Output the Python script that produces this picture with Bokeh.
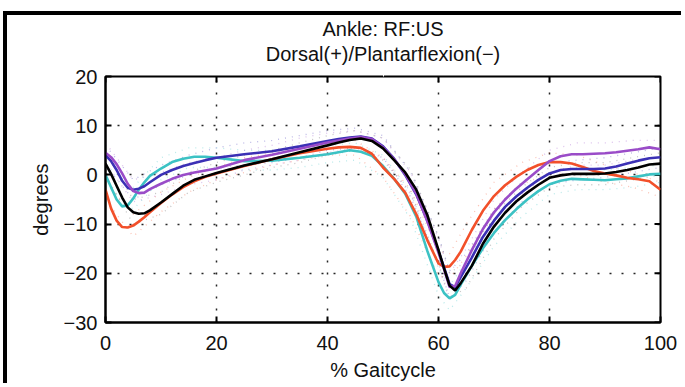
import math
from bokeh.plotting import figure
from bokeh.models import Range1d, FixedTicker, Title, LinearAxis
from bokeh.embed import file_html
from bokeh.resources import INLINE

# % gait cycle sample positions (mean curves)
gait = [0, 1, 2, 3, 4, 5, 6, 7, 8, 10, 12, 14, 16, 18, 20, 25, 30, 35, 40, 42, 44, 46, 48,
        50, 52, 54, 56, 58, 60, 61, 62, 63, 64, 66, 68, 70, 72, 74, 76, 78, 80,
        82, 84, 86, 88, 90, 92, 94, 96, 98, 100]

red = [-3.0, -6.8, -9.3, -10.6, -10.7, -10.3, -9.5, -8.6, -7.6, -5.7, -4.0, -2.5, -1.3, -0.4, 0.3,
       1.8, 3.2, 4.4, 5.3, 5.6, 5.7, 5.5, 4.3, 1.5, -0.8, -3.6, -8.0, -13.3, -18.0,
       -18.7, -18.6, -17.3, -15.6, -11.2, -7.3, -4.3, -2.1, -0.4, 1.0, 2.0, 2.6,
       2.6, 2.3, 1.6, 0.8, 0.3, -0.1, -0.6, -0.9, -1.3, -3.0]

cyan = [0.0, -2.5, -5.0, -6.4, -6.2, -4.8, -3.0, -1.5, -0.2, 1.3, 2.6, 3.3, 3.7, 3.7, 3.5,
        2.8, 2.9, 3.5, 4.2, 4.6, 5.0, 4.7, 3.9, 1.8, -0.8, -3.8, -8.5, -15.5, -21.8,
        -24.0, -25.1, -24.4, -22.3, -18.5, -14.9, -11.8, -9.2, -7.0, -5.0, -3.3, -1.9,
        -1.2, -0.8, -0.9, -1.0, -1.1, -0.9, -0.7, -0.3, 0.1, 0.2]

blue = [4.0, 2.8, 1.0, -1.2, -2.6, -3.0, -2.8, -2.3, -1.5, 0.0, 1.0, 1.8, 2.4, 3.0, 3.5,
        4.2, 4.8, 5.8, 6.9, 7.3, 7.6, 7.8, 7.4, 5.8, 3.3, 0.0, -4.0, -9.3, -15.5,
        -18.8, -22.2, -22.8, -20.8, -16.8, -12.6, -9.3, -6.5, -4.4, -2.6, -1.0, 0.3,
        1.0, 1.2, 1.2, 1.2, 1.3, 1.7, 2.3, 2.9, 3.4, 3.6]

purple = [4.5, 3.6, 2.2, 0.3, -1.8, -3.3, -3.7, -3.6, -2.9, -1.8, -0.8, 0.0, 0.5, 0.9, 1.3,
          3.0, 4.1, 5.3, 6.6, 7.0, 7.4, 7.7, 7.3, 5.6, 3.2, 0.2, -3.8, -9.5, -15.8,
          -19.2, -22.8, -22.6, -20.0, -15.3, -11.0, -7.6, -5.0, -2.8, -0.9, 1.0, 2.8,
          3.8, 4.2, 4.2, 4.3, 4.4, 4.6, 4.9, 5.2, 5.6, 5.2]

black = [2.3, 0.2, -2.2, -4.6, -6.6, -7.6, -7.9, -7.8, -7.2, -5.6, -3.9, -2.2, -1.0, -0.3, 0.4,
         1.9, 3.2, 4.6, 6.0, 6.6, 7.1, 7.4, 6.9, 5.4, 3.0, 0.5, -3.0, -8.2, -15.3,
         -19.0, -22.5, -23.5, -22.0, -18.5, -14.0, -10.5, -7.7, -5.4, -3.6, -2.0, -0.6,
         -0.1, 0.2, 0.2, 0.2, 0.3, 0.6, 1.0, 1.5, 2.1, 2.3]

# faint individual trials (dotted), sampled coarser
trial_x = [0, 5, 10, 15, 20, 25, 30, 35, 40, 45, 50, 55, 60, 62, 65, 70, 75, 80, 85, 90, 95, 100]
red_trial_a = [-1.5, -8.0, -3.5, -0.5, 1.5, 3.5, 4.5, 5.5, 6.5, 7.0, 3.5, -3.0, -15.5, -16.0, -10.0, -1.5, 2.5, 4.5, 4.0, 2.0, 0.5, -1.5]
red_trial_b = [-5.0, -12.5, -7.5, -3.5, -1.0, 0.5, 2.0, 3.0, 4.0, 4.0, -0.5, -8.5, -20.5, -21.0, -16.5, -7.0, -2.0, 0.5, 0.0, -1.5, -2.5, -4.5]
cyan_trial_a = [2.0, -2.5, 3.5, 5.5, 5.5, 5.0, 5.0, 5.5, 6.0, 6.5, 4.0, -3.5, -19.0, -22.5, -17.5, -9.0, -3.5, 0.5, 1.5, 1.0, 1.5, 2.0]
cyan_trial_b = [-2.0, -7.0, -1.0, 1.5, 1.5, 1.0, 1.0, 1.5, 2.5, 3.0, -0.5, -9.0, -24.5, -27.5, -23.0, -14.5, -8.5, -4.0, -3.0, -3.0, -2.5, -1.5]
blue_trial_a = [6.0, -1.0, 2.0, 4.0, 5.5, 6.5, 7.0, 8.0, 9.0, 9.5, 8.0, 0.5, -12.5, -19.5, -16.0, -7.0, -1.5, 2.5, 3.0, 3.5, 4.5, 5.5]
blue_trial_b = [2.0, -5.0, -2.0, 0.0, 1.5, 2.0, 2.5, 3.5, 5.0, 5.5, 3.5, -4.5, -18.0, -25.0, -21.5, -11.5, -5.5, -2.0, -1.0, -0.5, 0.5, 1.5]
purple_trial_a = [6.5, -1.0, 0.5, 2.5, 3.5, 5.0, 6.0, 7.5, 8.5, 9.0, 7.5, 0.5, -13.0, -20.0, -15.0, -5.0, 0.5, 5.0, 6.5, 6.5, 7.0, 7.0]
purple_trial_b = [2.5, -5.5, -4.0, -2.0, -1.0, 1.0, 2.0, 3.0, 4.5, 5.5, 3.5, -4.0, -18.5, -25.5, -20.5, -10.0, -4.0, 0.5, 2.0, 2.0, 3.0, 3.5]
black_trial_a = [4.5, -5.0, -3.5, 0.5, 2.5, 4.0, 5.0, 6.5, 8.0, 9.0, 7.5, 1.0, -12.5, -20.0, -17.5, -8.0, -2.5, 1.5, 2.5, 2.5, 3.5, 4.5]
black_trial_b = [0.0, -10.0, -8.0, -3.5, -1.5, 0.0, 1.5, 2.5, 4.0, 5.0, 3.0, -3.5, -18.0, -25.0, -23.0, -13.0, -6.5, -2.5, -2.0, -2.0, -1.0, 0.0]

x_ticks = [0, 20, 40, 60, 80, 100]
x_tick_labels = ["0", "20", "40", "60", "80", "100"]
y_ticks = [-30, -20, -10, 0, 10, 20]
y_tick_labels = ["\u221230", "\u221220", "\u221210", "0", "10", "20"]

title_line1 = "Ankle: RF:US"
title_line2 = "Dorsal(+)/Plantarflexion(\u2212)"
x_label = "% Gaitcycle"
y_label = "degrees"

FONT = "Liberation Sans"

p = figure(width=678, height=372, output_backend="svg", toolbar_location=None,
           x_range=Range1d(0, 100), y_range=Range1d(-30, 20),
           min_border_left=98, min_border_right=25, min_border_top=60, min_border_bottom=65,
           title=None)
# outer page frame: black top and left edges, as in the source figure
p.styles = {"margin-top": "11px", "margin-left": "3px",
            "border-top": "4px solid black", "border-left": "4px solid black"}
p.background_fill_color = "white"
p.border_fill_color = "white"
p.outline_line_color = "black"
p.outline_line_width = 2

# axes
for ax in (p.xaxis[0], p.yaxis[0]):
    ax.axis_line_width = 2
    ax.axis_line_color = "black"
    ax.major_tick_in = 6
    ax.major_tick_out = 0
    ax.minor_tick_line_color = None
    ax.major_tick_line_width = 2
    ax.major_label_text_font = FONT
    ax.major_label_text_font_size = "20px"
    ax.major_label_text_color = "#111111"
    ax.axis_label_text_font = FONT
    ax.axis_label_text_font_size = "20px"
    ax.axis_label_text_font_style = "normal"
    ax.axis_label_text_color = "#111111"

p.xaxis[0].ticker = FixedTicker(ticks=x_ticks)
p.xaxis[0].major_label_overrides = {t: s for t, s in zip(x_ticks, x_tick_labels)}
p.xaxis[0].major_label_standoff = 13
p.xaxis[0].axis_label = x_label
p.xaxis[0].axis_label_standoff = 6

p.yaxis[0].ticker = FixedTicker(ticks=y_ticks)
p.yaxis[0].major_label_overrides = {t: s for t, s in zip(y_ticks, y_tick_labels)}
p.yaxis[0].major_label_standoff = 8
p.yaxis[0].axis_label = y_label
p.yaxis[0].axis_label_standoff = 9

# invisible spacer between the box and the title lines: one white tick, no labels
spacer = LinearAxis(ticker=FixedTicker(ticks=[x_ticks[2] + 10]), axis_line_color=None,
                    major_tick_line_color="white", major_tick_line_width=1,
                    minor_tick_line_color=None,
                    major_tick_in=0, major_tick_out=11, major_label_standoff=0,
                    major_label_text_color=None)
p.add_layout(spacer, "above")

# title lines (first added sits closest to the plot)
p.add_layout(Title(text=title_line2, text_font=FONT, text_font_size="20px",
                   text_font_style="normal", align="center", standoff=2,
                   text_color="#111111"), "above")
p.add_layout(Title(text=title_line1, text_font=FONT, text_font_size="20px",
                   text_font_style="normal", align="center", standoff=0,
                   text_color="#111111"), "above")

# grid
for g in (p.xgrid[0], p.ygrid[0]):
    g.grid_line_color = "black"
    g.grid_line_dash = "2 10"
    g.grid_line_width = 1.5
    g.grid_line_alpha = 0.85
p.xgrid[0].ticker = FixedTicker(ticks=x_ticks)
p.ygrid[0].ticker = FixedTicker(ticks=y_ticks)

# inward ticks mirrored on the top and right edges of the box
p.ray(x=x_ticks, y=[p.y_range.end] * len(x_ticks), length=6, length_units="screen",
      angle=-math.pi / 2, line_color="black", line_width=2)
p.ray(x=[p.x_range.end] * len(y_ticks), y=y_ticks, length=6, length_units="screen",
      angle=math.pi, line_color="black", line_width=2)

# faint dotted trials
trials = [(red_trial_a, "#f2502a"), (red_trial_b, "#f2502a"),
          (cyan_trial_a, "#3cc2c4"), (cyan_trial_b, "#3cc2c4"),
          (blue_trial_a, "#3b30b5"), (blue_trial_b, "#3b30b5"),
          (purple_trial_a, "#9a4cc8"), (purple_trial_b, "#9a4cc8"),
          (black_trial_a, "#555555"), (black_trial_b, "#555555")]
for ys, col in trials:
    p.line(trial_x, ys, line_color=col, line_width=1.3, line_alpha=0.35, line_dash="1 6")

# mean curves
series = [(cyan, "#3cc2c4"), (red, "#f2502a"), (blue, "#3b30b5"),
          (purple, "#9a4cc8"), (black, "#000000")]
for ys, col in series:
    p.line(gait, ys, line_color=col, line_width=2.6)

open("out.html", "w").write(file_html(p, INLINE))
